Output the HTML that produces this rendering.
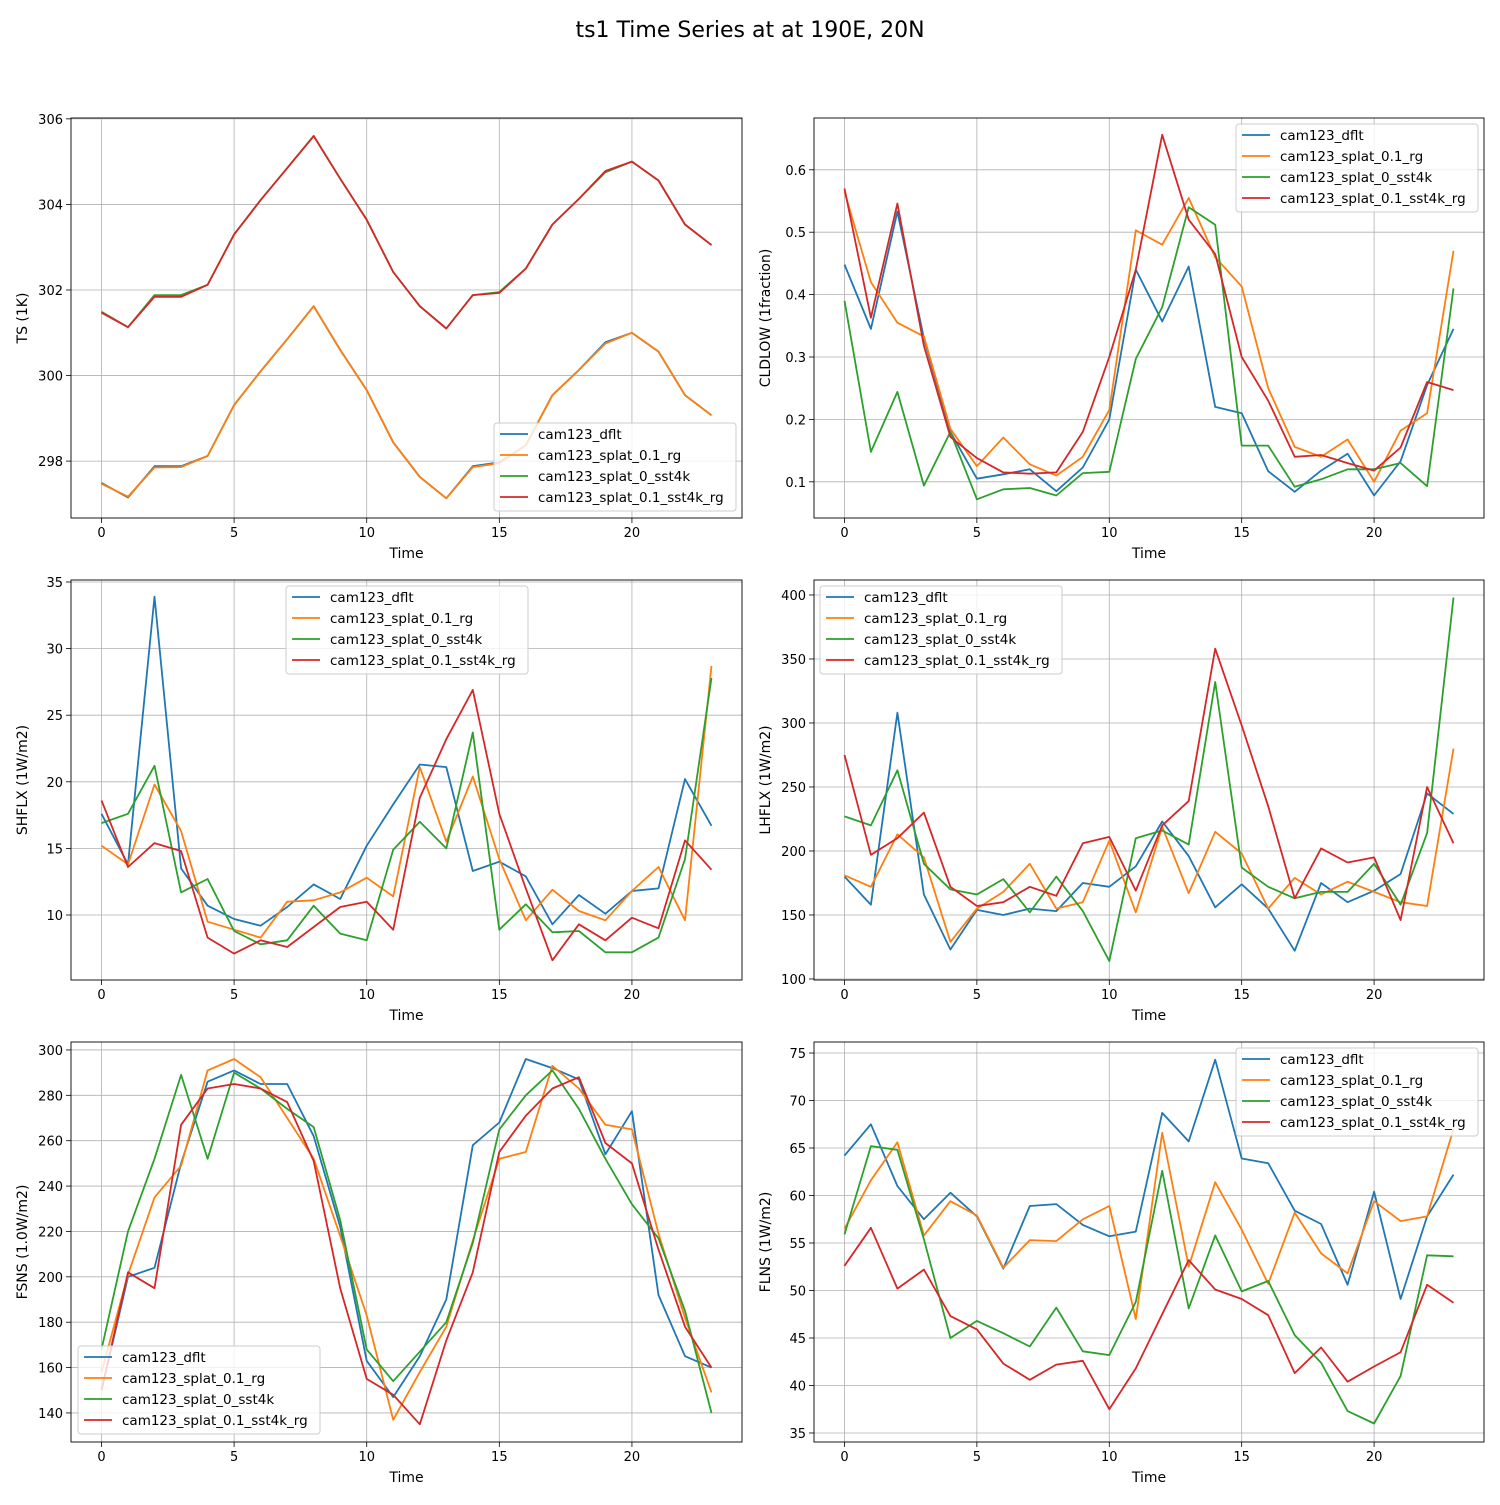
<!DOCTYPE html>
<html><head><meta charset="utf-8"><style>
body{margin:0;background:#fff;}
svg{font-family:"DejaVu Sans","Liberation Sans",sans-serif;}
</style></head><body>
<svg id="fig" width="1500" height="1500" viewBox="0 0 1500 1500">
<rect width="1500" height="1500" fill="#fff"/>
<text x="750" y="37" font-size="22" text-anchor="middle">ts1 Time Series at at 190E, 20N</text>
</svg>
<script>
const hours = [0,1,2,3,4,5,6,7,8,9,10,11,12,13,14,15,16,17,18,19,20,21,22,23];
const seriesNames = ["cam123_dflt","cam123_splat_0.1_rg","cam123_splat_0_sst4k","cam123_splat_0.1_sst4k_rg"];
const xTicks = [0,5,10,15,20];

const tsDflt = [297.49,297.15,297.88,297.88,298.12,299.31,300.1,300.85,301.62,300.6,299.66,298.44,297.63,297.13,297.88,297.97,298.37,299.54,300.13,300.78,301.0,300.56,299.54,299.07];
const tsSplat = [297.47,297.17,297.85,297.86,298.12,299.31,300.1,300.85,301.62,300.6,299.66,298.44,297.63,297.13,297.86,297.95,298.37,299.54,300.13,300.75,301.0,300.56,299.54,299.07];
const tsSst4k = [301.49,301.13,301.88,301.88,302.12,303.3,304.1,304.85,305.6,304.6,303.64,302.42,301.62,301.1,301.88,301.95,302.5,303.53,304.13,304.75,305.0,304.56,303.53,303.05];
const tsSst4kRg = [301.47,301.13,301.84,301.84,302.12,303.3,304.1,304.85,305.6,304.6,303.64,302.42,301.62,301.1,301.88,301.93,302.5,303.53,304.13,304.78,305.0,304.56,303.53,303.05];

const cldDflt = [0.448,0.345,0.533,0.33,0.18,0.105,0.112,0.12,0.085,0.123,0.2,0.44,0.357,0.445,0.22,0.21,0.117,0.084,0.118,0.145,0.078,0.133,0.255,0.345];
const cldSplat = [0.565,0.42,0.355,0.333,0.185,0.125,0.171,0.128,0.11,0.14,0.215,0.503,0.48,0.555,0.46,0.413,0.25,0.156,0.14,0.168,0.1,0.182,0.21,0.47];
const cldSst4k = [0.39,0.148,0.244,0.094,0.18,0.072,0.088,0.09,0.078,0.114,0.116,0.297,0.38,0.54,0.512,0.158,0.158,0.092,0.104,0.12,0.12,0.13,0.093,0.41];
const cldSst4kRg = [0.57,0.363,0.546,0.318,0.172,0.138,0.115,0.113,0.115,0.18,0.3,0.44,0.656,0.52,0.465,0.3,0.23,0.14,0.143,0.13,0.118,0.155,0.26,0.247];

const shDflt = [17.6,13.8,33.9,13.5,10.7,9.7,9.2,10.6,12.3,11.2,15.2,18.3,21.3,21.1,13.3,14.0,12.9,9.3,11.5,10.1,11.8,12.0,20.2,16.7];
const shSplat = [15.2,13.8,19.8,16.3,9.5,8.9,8.3,11.0,11.1,11.7,12.8,11.4,21.1,15.5,20.4,14.2,9.6,11.9,10.3,9.6,11.8,13.6,9.6,28.7];
const shSst4k = [16.9,17.6,21.2,11.7,12.7,8.8,7.8,8.1,10.7,8.6,8.1,14.9,17.0,15.0,23.7,8.9,10.8,8.7,8.8,7.2,7.2,8.3,14.2,27.8];
const shSst4kRg = [18.6,13.6,15.4,14.8,8.3,7.1,8.1,7.6,9.1,10.6,11.0,8.9,18.8,23.2,26.9,17.6,12.0,6.6,9.3,8.1,9.8,9.0,15.6,13.4];

const lhDflt = [180,158,308,166,123,154,150,155,153,175,172,188,223,196,156,174,155,122,175,160,169,182,245,229];
const lhSplat = [181,172,213,195,129,155,168,190,155,160,208,152,219,167,215,198,155,179,166,176,168,160,157,280];
const lhSst4k = [227,220,263,190,170,166,178,152,180,153,114,210,216,205,332,187,172,163,168,168,190,158,214,398];
const lhSst4kRg = [275,197,210,230,172,157,160,172,165,206,211,169,220,239,358,298,235,163,202,191,195,146,250,206];

const fsDflt = [150,200,204,250,286,291,285,285,262,222,163,147,165,190,258,268,296,292,287,254,273,192,165,160];
const fsSplat = [158,201,235,249,291,296,288,270,252,218,183,137,158,178,216,252,255,293,283,267,265,219,182,149];
const fsSst4k = [168,220,252,289,252,290,283,274,266,225,168,154,167,180,215,265,280,291,274,252,232,217,185,140];
const fsSst4kRg = [150,202,195,267,283,285,283,277,251,195,155,148,135,172,202,255,271,283,288,259,250,212,178,160];

const flDflt = [64.2,67.5,61.0,57.5,60.3,57.8,52.3,58.9,59.1,56.9,55.7,56.2,68.7,65.7,74.3,63.9,63.4,58.4,57.0,50.6,60.4,49.1,57.8,62.2];
const flSplat = [56.5,61.6,65.6,55.8,59.4,57.9,52.4,55.3,55.2,57.5,58.9,47.0,66.6,52.5,61.4,56.4,50.7,58.2,53.9,51.8,59.4,57.3,57.8,67.0];
const flSst4k = [55.9,65.2,64.8,55.4,45.0,46.8,45.5,44.1,48.2,43.6,43.2,48.8,62.6,48.1,55.8,49.9,51.0,45.3,42.4,37.3,36.0,41.0,53.7,53.6];
const flSst4kRg = [52.6,56.6,50.2,52.2,47.3,45.9,42.3,40.6,42.2,42.6,37.5,41.8,47.5,53.2,50.1,49.1,47.4,41.3,44.0,40.4,42.0,43.5,50.6,48.7];

const tsTicks = [298,300,302,304,306];
const cldTicks = [0.1,0.2,0.3,0.4,0.5,0.6];
const shTicks = [10,15,20,25,30,35];
const lhTicks = [100,150,200,250,300,350,400];
const fsTicks = [140,160,180,200,220,240,260,280,300];
const flTicks = [35,40,45,50,55,60,65,70,75];

const colors = ["#1f77b4","#ff7f0e","#2ca02c","#d62728"];
const NS = "http://www.w3.org/2000/svg";
const svg = document.getElementById("fig");
function mk(tag, attrs, parent){
  const e = document.createElementNS(NS, tag);
  for (const k in attrs) e.setAttribute(k, attrs[k]);
  (parent||svg).appendChild(e);
  return e;
}
const panels = [
  {id:"ts", L:71, T:118, W:671, ylim:[296.67,306.02], ticks:tsTicks, fmt:v=>String(v), label:"TS (1K)", data:[tsDflt,tsSplat,tsSst4k,tsSst4kRg], leg:[494,423]},
  {id:"cldlow", L:814, T:118, W:670, ylim:[0.042,0.683], ticks:cldTicks, fmt:v=>v.toFixed(1), label:"CLDLOW (1fraction)", data:[cldDflt,cldSplat,cldSst4k,cldSst4kRg], leg:[1236,124]},
  {id:"shflx", L:71, T:580, W:671, ylim:[5.12,35.15], ticks:shTicks, fmt:v=>String(v), label:"SHFLX (1W/m2)", data:[shDflt,shSplat,shSst4k,shSst4kRg], leg:[286,586]},
  {id:"lhflx", L:814, T:580, W:670, ylim:[99.2,411.7], ticks:lhTicks, fmt:v=>String(v), label:"LHFLX (1W/m2)", data:[lhDflt,lhSplat,lhSst4k,lhSst4kRg], leg:[820,586]},
  {id:"fsns", L:71, T:1042, W:671, ylim:[127.2,303.5], ticks:fsTicks, fmt:v=>String(v), label:"FSNS (1.0W/m2)", data:[fsDflt,fsSplat,fsSst4k,fsSst4kRg], leg:[78,1346]},
  {id:"flns", L:814, T:1042, W:670, ylim:[34.05,76.16], ticks:flTicks, fmt:v=>String(v), label:"FLNS (1W/m2)", data:[flDflt,flSplat,flSst4k,flSst4kRg], leg:[1236,1048]}
];
const H = 400, XL = [-1.15, 24.15];
panels.forEach(p=>{
  const g = mk("g",{});
  
  
  const xs = v => p.L + (v - XL[0]) / (XL[1]-XL[0]) * p.W;
  const ys = v => p.T + H - (v - p.ylim[0]) / (p.ylim[1]-p.ylim[0]) * H;
  xTicks.forEach(t=>{
    const x = xs(t);
    mk("line",{x1:x,x2:x,y1:p.T,y2:p.T+H,stroke:"#b0b0b0","stroke-width":0.8},g);
    mk("line",{x1:x,x2:x,y1:p.T+H,y2:p.T+H+5,stroke:"#000","stroke-width":0.8},g);
    const tx = mk("text",{x:x,y:p.T+H+19,"font-size":13,"text-anchor":"middle"},g);
    tx.textContent = t;
    
    
  });
  p.ticks.forEach(t=>{
    const y = ys(t);
    mk("line",{x1:p.L,x2:p.L+p.W,y1:y,y2:y,stroke:"#b0b0b0","stroke-width":0.8},g);
    mk("line",{x1:p.L-5,x2:p.L,y1:y,y2:y,stroke:"#000","stroke-width":0.8},g);
    const tx = mk("text",{x:p.L-8,y:y+5,"font-size":13,"text-anchor":"end"},g);
    tx.textContent = p.fmt(t);
    
    
  });
  p.data.forEach((arr,i)=>{
    const pts = arr.map((v,k)=>xs(hours[k]).toFixed(1)+","+ys(v).toFixed(1)).join(" ");
    const pl = mk("polyline",{points:pts,fill:"none",stroke:colors[i],"stroke-width":1.8,"stroke-linejoin":"round"},g);
    
    
  });
  mk("rect",{x:p.L,y:p.T,width:p.W,height:H,fill:"none",stroke:"#000","stroke-width":0.9},g);
  const xl = mk("text",{x:p.L+p.W/2,y:p.T+H+40,"font-size":14,"text-anchor":"middle"},g);
  xl.textContent = "Time";
  
  
  const lx = p.L - 44, ly = p.T + H/2;
  const yl = mk("text",{x:lx,y:ly,"font-size":14,"text-anchor":"middle",transform:`rotate(-90 ${lx} ${ly})`},g);
  yl.textContent = p.label;
  
  
  const [gx,gy] = p.leg;
  const lg = mk("g",{},g);
  
  
  mk("rect",{x:gx,y:gy,width:242,height:88,rx:3,fill:"#fff","fill-opacity":0.8,stroke:"#ccc","stroke-width":1},lg);
  seriesNames.forEach((n,i)=>{
    const yy = gy + 11 + i*21;
    mk("line",{x1:gx+6,x2:gx+34,y1:yy,y2:yy,stroke:colors[i],"stroke-width":1.8},lg);
    const t = mk("text",{x:gx+44,y:yy+5,"font-size":13.5},lg);
    t.textContent = n;
    
    
  });
});
</script>
</body></html>
